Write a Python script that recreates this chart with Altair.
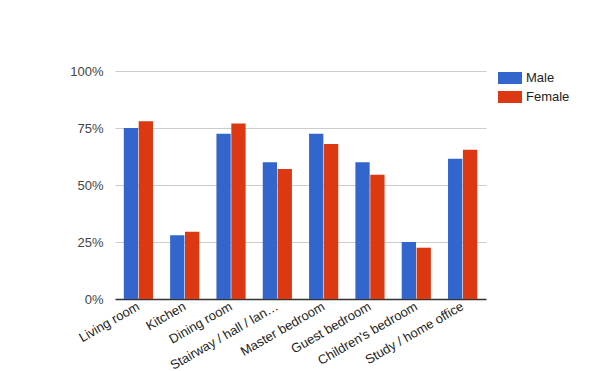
import altair as alt
import pandas as pd

rooms = ["Living room", "Kitchen", "Dining room", "Stairway / hall / lan…",
         "Master bedroom", "Guest bedroom", "Children's bedroom", "Study / home office"]
male = [0.75, 0.28, 0.725, 0.60, 0.725, 0.60, 0.25, 0.615]
female = [0.78, 0.295, 0.77, 0.57, 0.68, 0.545, 0.225, 0.655]
series = ["Male", "Female"]
colors = ["#3366CC", "#DC3912"]

rows = []
for r, m, f in zip(rooms, male, female):
    rows.append({"room": r, "gender": "Male", "value": m})
    rows.append({"room": r, "gender": "Female", "value": f})
df = pd.DataFrame(rows)

font = "Liberation Sans"

chart = alt.Chart(df).mark_bar().encode(
    x=alt.X("room:N", sort=rooms, title=None,
            scale=alt.Scale(paddingInner=0.37, paddingOuter=0.19),
            axis=alt.Axis(labelAngle=-30, labelAlign="right", labelBaseline="middle",
                          labelFont=font, labelFontSize=13, labelColor="#222222",
                          ticks=False, domainColor="#333333", domainWidth=1.5,
                          labelPadding=6, labelLimit=300)),
    xOffset=alt.XOffset("gender:N", sort=series,
                        scale=alt.Scale(paddingInner=0.04)),
    y=alt.Y("value:Q", title=None,
            scale=alt.Scale(domain=[0, 1]),
            axis=alt.Axis(format=".0%", values=[0, 0.25, 0.5, 0.75, 1],
                          labelFont=font, labelFontSize=13, labelColor="#444444",
                          ticks=False, domain=False, gridColor="#cccccc",
                          labelPadding=12)),
    color=alt.Color("gender:N", sort=series,
                    scale=alt.Scale(domain=series, range=colors),
                    legend=alt.Legend(title=None, orient="none", legendX=383, legendY=-5,
                                      symbolType="M-1,-0.5L1,-0.5L1,0.5L-1,0.5Z",
                                      symbolSize=576, symbolStrokeWidth=0,
                                      labelFont=font, labelFontSize=13,
                                      labelColor="#222222", rowPadding=0)),
).properties(
    width=371, height=228,
    autosize=alt.AutoSizeParams(type="none"),
    padding={"left": 107, "top": 63, "right": 106, "bottom": 72},
).configure_view(stroke=None)

chart.save("out.html", embed_options={"renderer": "svg", "actions": False})
